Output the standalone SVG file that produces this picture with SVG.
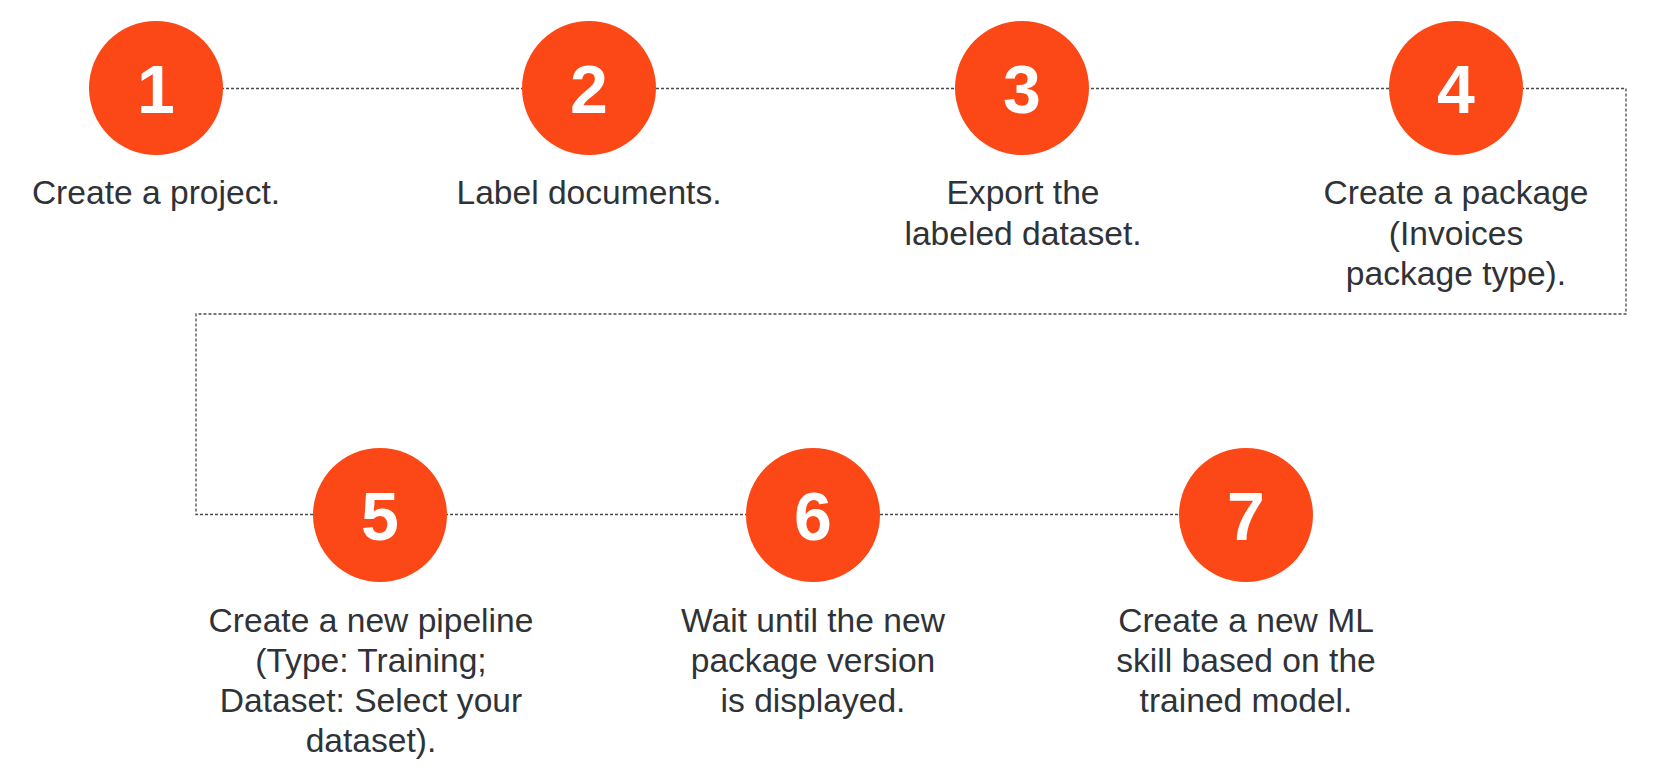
<svg xmlns="http://www.w3.org/2000/svg" width="1680" height="781" viewBox="0 0 1680 781">
<style>
.c{fill:#fc4817}
.n{fill:#ffffff;font-family:"Liberation Sans",Arial,sans-serif;font-weight:bold;font-size:68px;text-anchor:middle}
.t{fill:#2f3337;font-family:"Liberation Sans",Arial,sans-serif;font-size:33.6px;text-anchor:middle}
.l{fill:none;stroke:#4a4a4a;stroke-width:1.3;stroke-dasharray:3 2}
</style>
<rect width="1680" height="781" fill="#ffffff"/>
<g id="connectors">
<path class="l" d="M156 88.5 H1626 V314 H196 V514.5 H1246"/>
</g>
<g id="step1">
<circle class="c" cx="156" cy="88" r="67"/>
<text class="n" x="156" y="113">1</text>
<text class="t" x="156" y="204">Create a project.</text>
</g>
<g id="step2">
<circle class="c" cx="589" cy="88" r="67"/>
<text class="n" x="589" y="113">2</text>
<text class="t" x="589" y="204">Label documents.</text>
</g>
<g id="step3">
<circle class="c" cx="1022" cy="88" r="67"/>
<text class="n" x="1022" y="113">3</text>
<text class="t" x="1023" y="204">Export the<tspan x="1023" y="244.5">labeled dataset.</tspan></text>
</g>
<g id="step4">
<circle class="c" cx="1456" cy="88" r="67"/>
<text class="n" x="1456" y="113">4</text>
<text class="t" x="1456" y="204">Create a package<tspan x="1456" y="244.5">(Invoices</tspan><tspan x="1456" y="285">package type).</tspan></text>
</g>
<g id="step5">
<circle class="c" cx="380" cy="515" r="67"/>
<text class="n" x="380" y="540">5</text>
<text class="t" x="371" y="631.5">Create a new pipeline<tspan x="371" y="671.5">(Type: Training;</tspan><tspan x="371" y="711.5">Dataset: Select your</tspan><tspan x="371" y="751.5">dataset).</tspan></text>
</g>
<g id="step6">
<circle class="c" cx="813" cy="515" r="67"/>
<text class="n" x="813" y="540">6</text>
<text class="t" x="813" y="631.5">Wait until the new<tspan x="813" y="671.5">package version</tspan><tspan x="813" y="711.5">is displayed.</tspan></text>
</g>
<g id="step7">
<circle class="c" cx="1246" cy="515" r="67"/>
<text class="n" x="1246" y="540">7</text>
<text class="t" x="1246" y="631.5">Create a new ML<tspan x="1246" y="671.5">skill based on the</tspan><tspan x="1246" y="711.5">trained model.</tspan></text>
</g>
</svg>
